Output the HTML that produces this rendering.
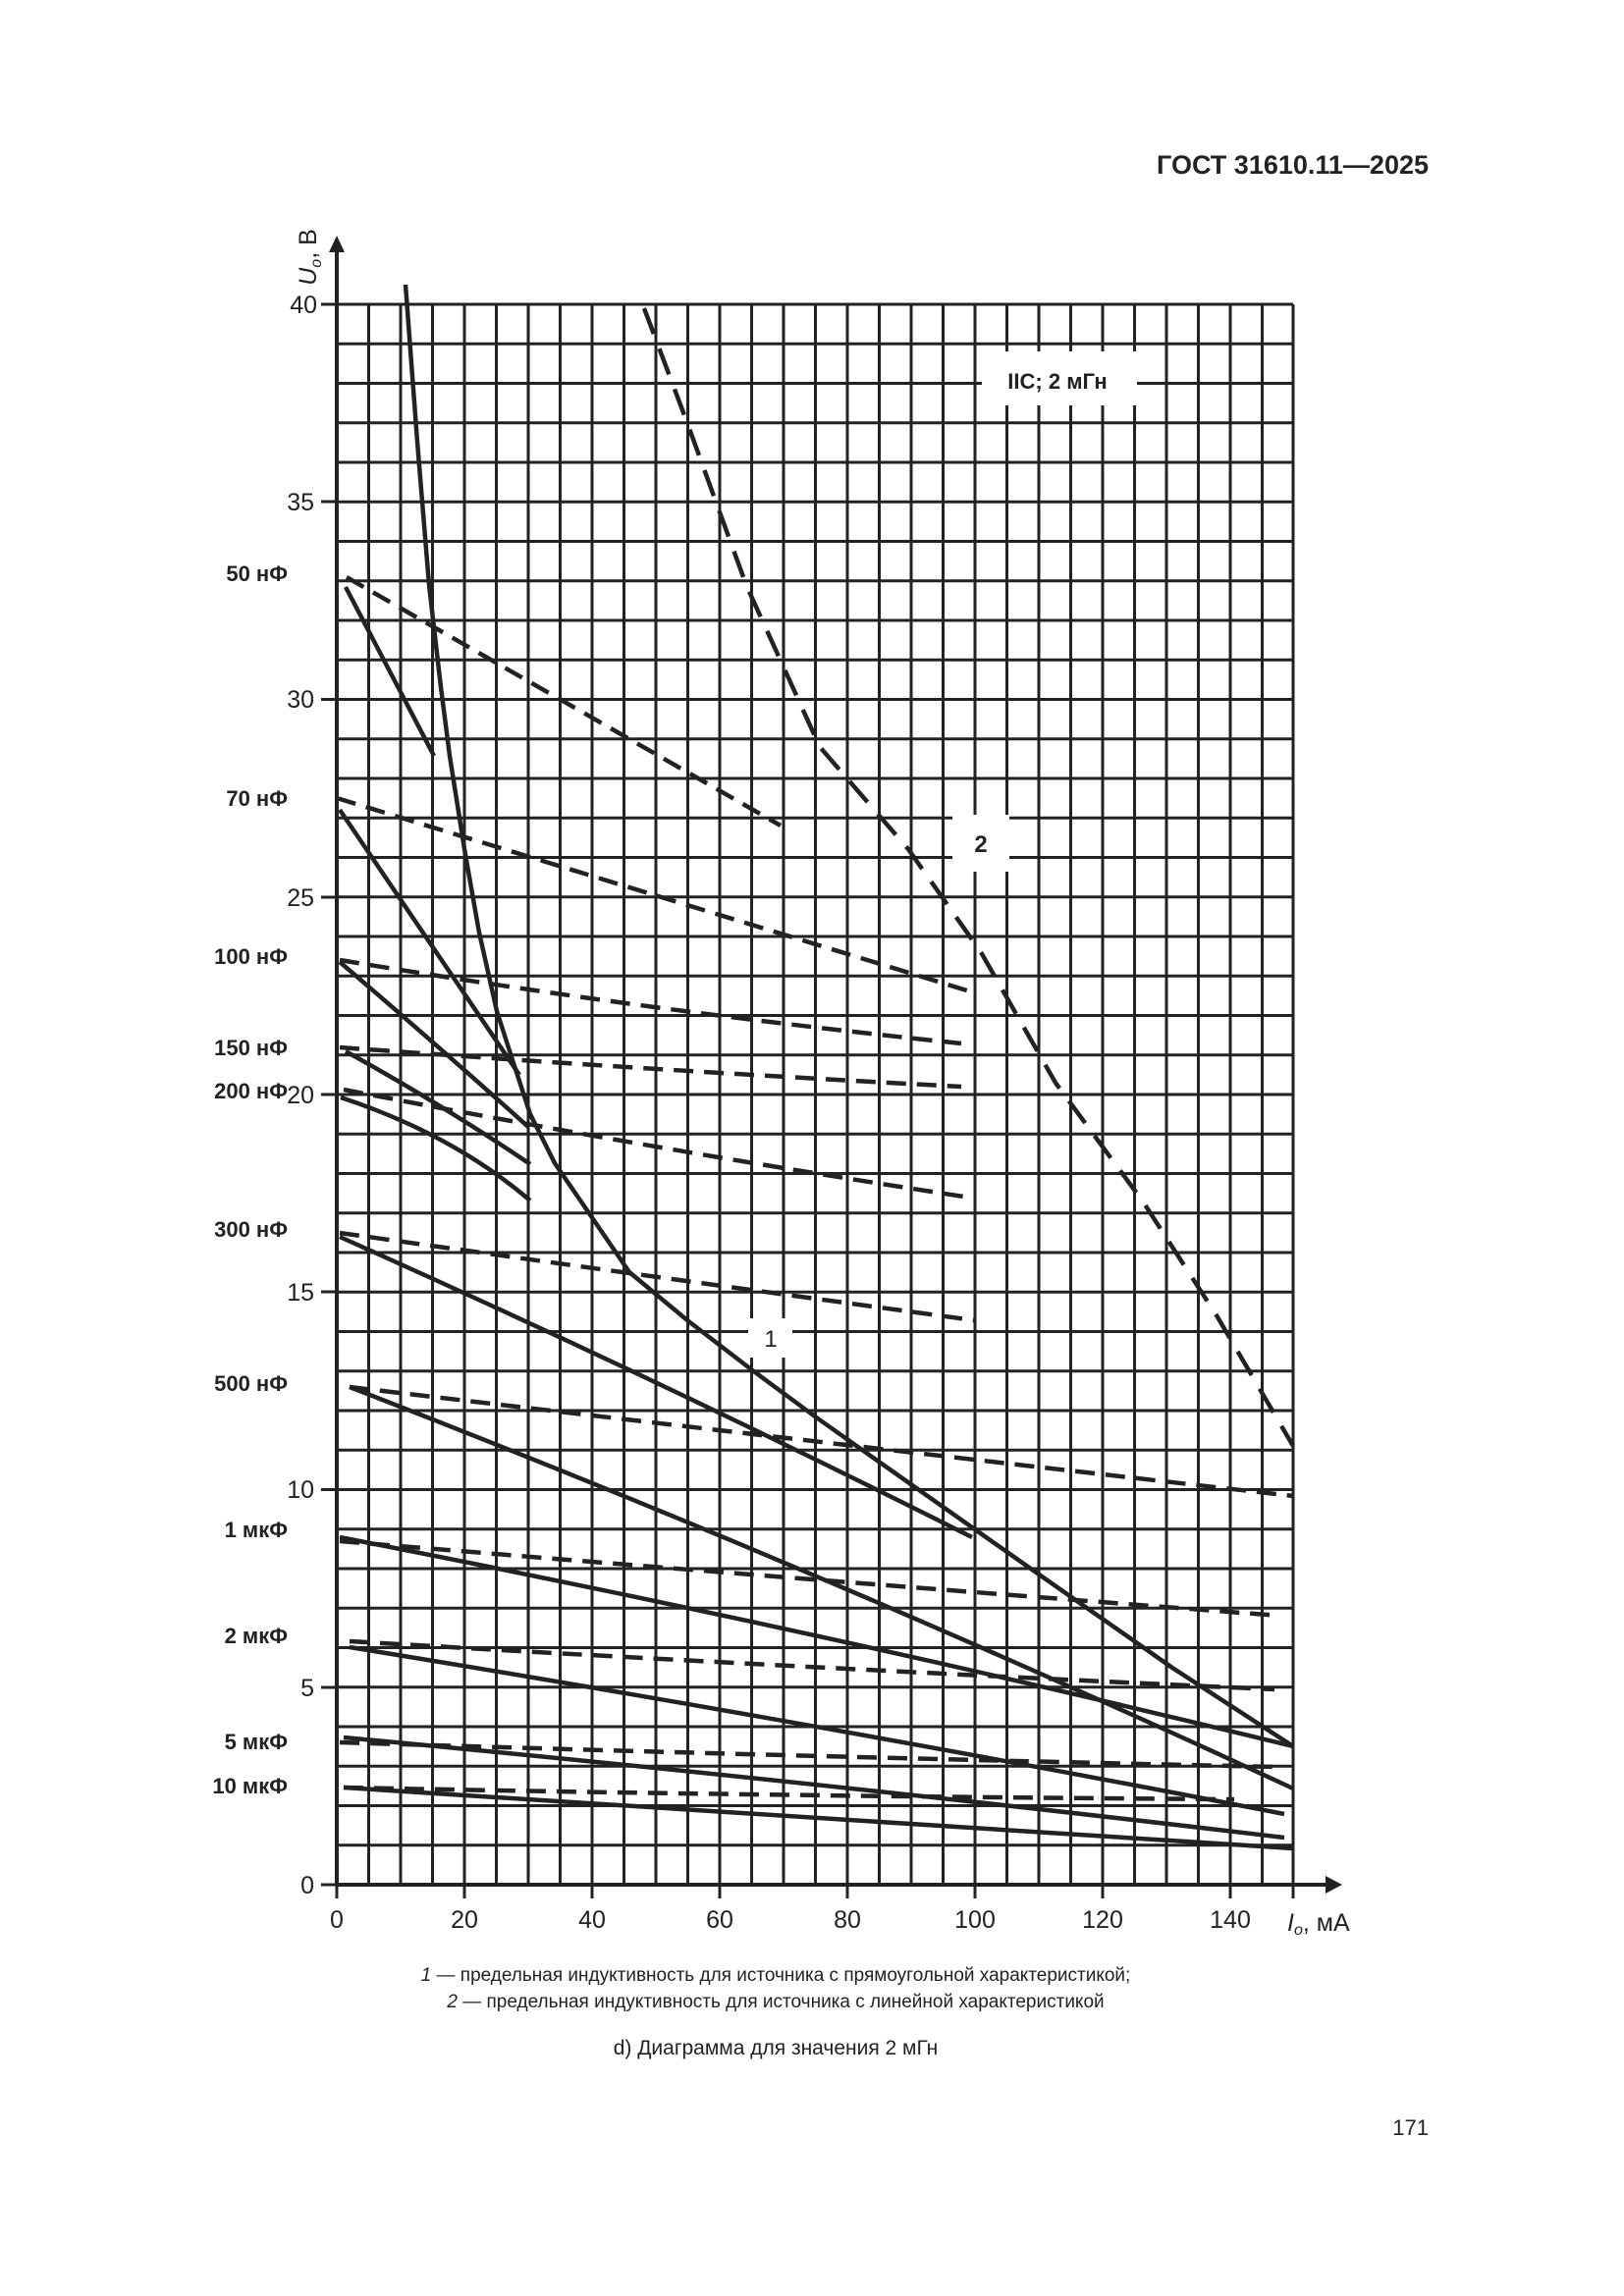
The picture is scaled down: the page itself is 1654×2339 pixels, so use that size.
<!DOCTYPE html>
<html><head><meta charset="utf-8"><style>
html,body{margin:0;padding:0;background:#fff;}
svg{display:block;}
text{font-family:"Liberation Sans",Arial,sans-serif;fill:#222;}
</style></head><body>
<svg width="1654" height="2339" viewBox="0 0 1654 2339" xmlns="http://www.w3.org/2000/svg">
<rect width="1654" height="2339" fill="#fff"/>
<text x="1455" y="177" font-size="27" font-weight="bold" text-anchor="end">ГОСТ 31610.11—2025</text>

<g stroke="#222" stroke-width="3">
<path d="
M343,310 V1920 M375.5,310 V1920 M408,310 V1920 M440.5,310 V1920 M473,310 V1920 M505.5,310 V1920 M538,310 V1920 M570.5,310 V1920 M603,310 V1920 M635.5,310 V1920 M668,310 V1920 M700.5,310 V1920 M733,310 V1920 M765.5,310 V1920 M798,310 V1920 M830.5,310 V1920 M863,310 V1920 M895.5,310 V1920 M928,310 V1920 M960.5,310 V1920 M993,310 V1920 M1025.5,310 V1920 M1058,310 V1920 M1090.5,310 V1920 M1123,310 V1920 M1155.5,310 V1920 M1188,310 V1920 M1220.5,310 V1920 M1253,310 V1920 M1285.5,310 V1920 M1317,310 V1920
M343,310 H1317 M343,350.25 H1317 M343,390.5 H1317 M343,430.75 H1317 M343,471 H1317 M343,511.25 H1317 M343,551.5 H1317 M343,591.75 H1317 M343,632 H1317 M343,672.25 H1317 M343,712.5 H1317 M343,752.75 H1317 M343,793 H1317 M343,833.25 H1317 M343,873.5 H1317 M343,913.75 H1317 M343,954 H1317 M343,994.25 H1317 M343,1034.5 H1317 M343,1074.75 H1317 M343,1115 H1317 M343,1155.25 H1317 M343,1195.5 H1317 M343,1235.75 H1317 M343,1276 H1317 M343,1316.25 H1317 M343,1356.5 H1317 M343,1396.75 H1317 M343,1437 H1317 M343,1477.25 H1317 M343,1517.5 H1317 M343,1557.75 H1317 M343,1598 H1317 M343,1638.25 H1317 M343,1678.5 H1317 M343,1718.75 H1317 M343,1759 H1317 M343,1799.25 H1317 M343,1839.5 H1317 M343,1879.75 H1317"/>
<path d="M343,1920 H1350 M343,1920 V255" stroke-width="4"/>
<path d="M327,310 H343 M327,511 H343 M327,712.5 H343 M327,914 H343 M327,1115 H343 M327,1316 H343 M327,1517.5 H343 M327,1719 H343 M327,1920 H343"/>
<path d="M343,1920 V1934 M473,1920 V1934 M603,1920 V1934 M733,1920 V1934 M863,1920 V1934 M993,1920 V1934 M1123,1920 V1934 M1253,1920 V1934 M1317,1920 V1934"/>
</g>
<polygon points="335,257 351,257 343,240" fill="#222"/>
<polygon points="1350,1911 1350,1929 1367,1920" fill="#222"/>

<g font-size="25" text-anchor="end">
<text x="323" y="319">40</text><text x="320" y="520">35</text><text x="320" y="721">30</text>
<text x="320" y="923">25</text><text x="320" y="1124">20</text><text x="320" y="1325">15</text>
<text x="320" y="1526">10</text><text x="320" y="1728">5</text><text x="320" y="1929">0</text>
</g>
<text transform="translate(322,262) rotate(-90)" font-size="25" text-anchor="middle"><tspan font-style="italic">U</tspan><tspan font-size="16" font-style="italic" dy="5">o</tspan><tspan dy="-5">, В</tspan></text>
<g font-size="25" text-anchor="middle">
<text x="343" y="1964">0</text><text x="473" y="1964">20</text><text x="603" y="1964">40</text>
<text x="733" y="1964">60</text><text x="863" y="1964">80</text><text x="993" y="1964">100</text>
<text x="1123" y="1964">120</text><text x="1253" y="1964">140</text>
</g>
<text x="1311" y="1967" font-size="25"><tspan font-style="italic">I</tspan><tspan font-style="italic" font-size="16" dy="4">o</tspan><tspan dy="-4">, мА</tspan></text>

<g font-size="22" font-weight="bold" text-anchor="end">
<text x="293" y="592">50 нФ</text><text x="293" y="821">70 нФ</text><text x="293" y="982">100 нФ</text>
<text x="293" y="1075">150 нФ</text><text x="293" y="1119">200 нФ</text><text x="293" y="1260">300 нФ</text>
<text x="293" y="1417">500 нФ</text><text x="293" y="1566">1 мкФ</text><text x="293" y="1674">2 мкФ</text>
<text x="293" y="1782">5 мкФ</text><text x="293" y="1827">10 мкФ</text>
</g>

<rect x="1000" y="358" width="158" height="55" fill="#fff"/>
<text x="1077" y="396" font-size="22" font-weight="bold" text-anchor="middle">IIC; 2 мГн</text>

<g fill="none" stroke="#222" stroke-width="4.5" stroke-linecap="butt" stroke-linejoin="round">
<path d="M352,598 L442,770"/>
<path d="M346,825 L529,1095"/>
<path d="M346,980 Q440,1060 538,1148"/>
<path d="M352,1071 Q450,1125 540,1186"/>
<path d="M347,1118 Q460,1155 540,1223"/>
<path d="M346,1260 Q660,1400 990,1566"/>
<path d="M356,1413 Q840,1600 1317,1822"/>
<path d="M346,1566 Q830,1660 1317,1779"/>
<path d="M356,1678 Q830,1755 1308,1848"/>
<path d="M350,1770 Q830,1815 1308,1872"/>
<path d="M350,1821 Q830,1850 1317,1883"/>
<path d="M413,290 L425,450 L437,596 L449,700 L458,770 L473,865 L488,950 L506,1030 L522,1080 L540,1135 L565,1185 L600,1236 L641,1296 L700,1345 L765,1395 L830,1443 L895,1489 L1044,1594 L1194,1699 L1317,1779"/>
</g>
<g fill="none" stroke="#222" stroke-width="4.5" stroke-dasharray="20 11">
<path d="M353,588 L795,841"/>
<path d="M343,813 L988,1010"/>
<path d="M346,978 Q660,1030 979,1063"/>
<path d="M346,1067 Q660,1090 979,1107"/>
<path d="M350,1110 Q660,1170 988,1220"/>
<path d="M346,1256 Q660,1300 992,1345"/>
<path d="M356,1413 Q840,1470 1317,1524"/>
<path d="M346,1570 Q830,1610 1304,1646"/>
<path d="M356,1672 Q830,1700 1298,1721"/>
<path d="M346,1775 Q830,1790 1300,1800"/>
<path d="M350,1821 Q800,1830 1257,1833"/>
</g>
<path d="M656,314 L700,431 L760,596 L835,761 L925,865 L999,970 L1075,1103 L1164,1224 L1239,1340 L1317,1473" fill="none" stroke="#222" stroke-width="4.5" stroke-dasharray="28 16"/>

<rect x="970" y="830" width="58" height="58" fill="#fff"/>
<text x="999" y="868" font-size="24" font-weight="bold" text-anchor="middle">2</text>
<rect x="762" y="1343" width="45" height="40" fill="#fff"/>
<text x="785" y="1372" font-size="24" text-anchor="middle">1</text>

<g font-size="19" text-anchor="middle">
<text x="790" y="2018"><tspan font-style="italic">1</tspan> — предельная индуктивность для источника с прямоугольной характеристикой;</text>
<text x="790" y="2045"><tspan font-style="italic">2</tspan> — предельная индуктивность для источника с линейной характеристикой</text>
<text x="790" y="2093" font-size="21">d) Диаграмма для значения 2 мГн</text>
</g>
<text x="1455" y="2175" font-size="22" text-anchor="end">171</text>
</svg>
</body></html>
